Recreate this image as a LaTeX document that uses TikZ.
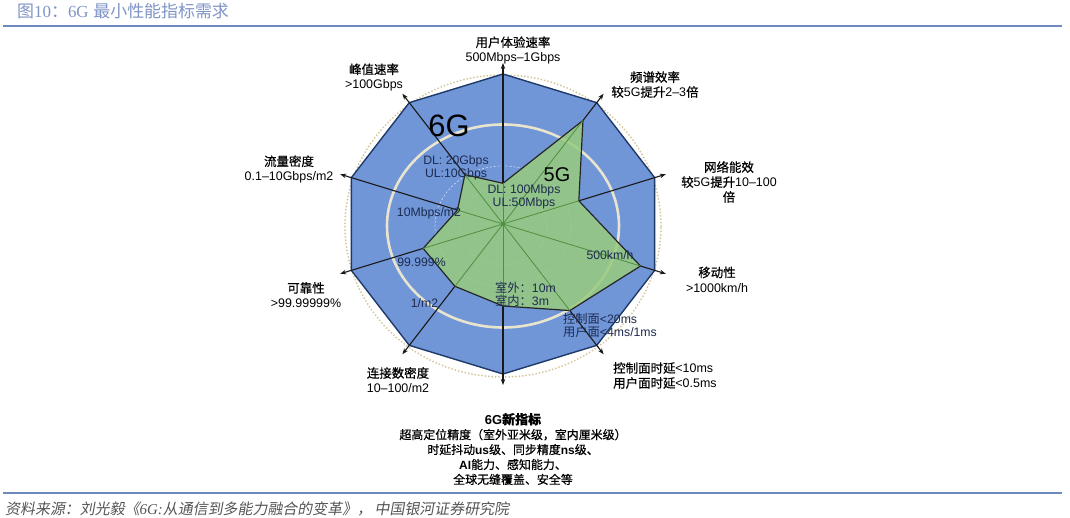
\documentclass[tikz,border=0pt]{standalone}
\usepackage{fontspec}
\setmainfont{Liberation Sans}
\newfontfamily\cjk{Noto Sans CJK SC}
\newfontfamily\cjkb{Noto Sans CJK SC}[FakeBold=0.6]
\newfontfamily\cjkit{Noto Sans CJK SC}[FakeSlant=0.18]
\newfontfamily\enserif{Liberation Serif}
\usetikzlibrary{arrows.meta}
\newcommand\zh[1]{{\cjk #1}}
\newcommand\zhb[1]{{\cjkb #1}}
\definecolor{titlecol}{HTML}{7F95C6}
\definecolor{rulecol}{HTML}{6E89BB}
\definecolor{bluefill}{HTML}{7096D8}
\definecolor{navyline}{HTML}{1F3A68}
\definecolor{ringcol}{HTML}{E8E4CE}
\definecolor{dotcol}{HTML}{D3C698}
\definecolor{greenfill}{HTML}{97CB7E}
\definecolor{spokecol}{HTML}{4F8F3F}
\definecolor{innertext}{HTML}{1E2B4F}
\definecolor{notecol}{HTML}{555555}
\begin{document}
\begin{tikzpicture}[x=1bp,y=-1bp,
  titletext/.style={text=titlecol,inner sep=0pt,font=\fontsize{17}{18}\selectfont},
  rule/.style={draw=rulecol,line width=2bp},
  notetext/.style={text=notecol,inner sep=0pt,font=\fontsize{15}{17}\selectfont},
  hexa/.style={fill=bluefill,draw=navyline,line width=1.4bp,line join=miter},
  ringsolid/.style={draw=ringcol,line width=2.6bp},
  ringdot/.style={draw=dotcol,line width=2bp,line cap=round,dash pattern=on 0bp off 3.4bp},
  ringdash/.style={draw=white,draw opacity=0.6,line width=0.7bp,dash pattern=on 2bp off 2bp},
  axisline/.style={draw=black!90,line width=1.1bp,-{Stealth[length=6bp,width=4.5bp]}},
  greenpoly/.style={fill=greenfill,fill opacity=0.86,draw=black!85,line width=1.2bp,line join=miter},
  spoke/.style={draw=spokecol,line width=0.8bp},
  outlabel/.style={align=center,inner sep=0pt,text=black,font=\fontsize{12.5}{15}\selectfont},
  inlabel/.style={align=center,inner sep=0pt,text=innertext,font=\fontsize{12.3}{13}\selectfont},
  biglabel/.style={inner sep=0pt,text=black}
]
\useasboundingbox (0,0) rectangle (1070,518);
\fill[white] (0,0) rectangle (1070,518);

% title and rules
\node[titletext,anchor=west] (title) at (17,11) {\zh{图}{\enserif 10}\zh{：}{\enserif 6G} \zh{最小性能指标需求}};
\coordinate (rt1) at (3,26);
\coordinate (rt2) at (1062,26);
\draw[rule] (rt1) -- (rt2);
\coordinate (rb1) at (3,492.5);
\coordinate (rb2) at (1062,492.5);
\draw[rule] (rb1) -- (rb2);
\node[notetext,anchor=west] (note) at (5,508.5) {{\cjkit 资料来源：刘光毅《}{\enserif\itshape 6G:}{\cjkit 从通信到多能力融合的变革》，\,中国银河证券研究院}};

% radar
\begin{scope}[shift={(503,224)}]
\begin{scope}[x=1.063bp,y=1bp]
\coordinate (O) at (0,0);
\foreach \i/\r in {0/40.7,1/128,2/75,3/136,4/107,5/82,6/77,7/79,8/45,9/61}{
  \pgfmathsetmacro\ang{90-36*\i}
  \coordinate (d\i) at (\ang:150);
  \coordinate (g\i) at (\ang:\r);
  \coordinate (t\i) at (\ang:161);
}
\draw[ringdot] (0,-2) ellipse [x radius=158bp, y radius=151bp];
\draw[hexa] (d0) -- (d1) -- (d2) -- (d3) -- (d4) -- (d5) -- (d6) -- (d7) -- (d8) -- (d9) -- cycle;
\draw[ringsolid] (0,-2) ellipse [x radius=116bp, y radius=101.5bp];
\draw[ringdash] (0,-2) ellipse [x radius=68bp, y radius=60bp];
\draw[ringdash] (0,-2) ellipse [x radius=44bp, y radius=39bp];
\foreach \i in {0,...,9}{ \draw[axisline] (g\i) -- (t\i); }
\draw[greenpoly] (g0) -- (g1) -- (g2) -- (g3) -- (g4) -- (g5) -- (g6) -- (g7) -- (g8) -- (g9) -- cycle;
\foreach \i in {0,...,9}{ \draw[spoke] (O) -- (g\i); }
\fill[spokecol] (O) circle [radius=2bp];
\end{scope}
\end{scope}

% inner labels
\node[biglabel,font=\fontsize{31}{31}\selectfont] (l6g) at (449,126) {6G};
\node[biglabel,font=\fontsize{20}{20}\selectfont] (l5g) at (557,175) {5G};
\node[inlabel] (dl6) at (456,168) {DL: 20Gbps\\UL:10Gbps};
\node[inlabel] (dl5) at (524,197) {DL: 100Mbps\\UL:50Mbps};
\node[inlabel] (flow5) at (429,213.5) {10Mbps/m2};
\node[inlabel] (rel5) at (421.5,262) {99.999\%};
\node[inlabel] (con5) at (424.5,303) {1/m2};
\node[inlabel,align=left,anchor=west] (pos5) at (495,294.5) {\zh{室外：}10m\\\zh{室内：}3m};
\node[inlabel] (mob5) at (610,255) {500km/h};
\node[inlabel,align=left,anchor=west] (lat5) at (563,325.5) {\zh{控制面}<20ms\\\zh{用户面}<4ms/1ms};

% outer labels
\node[outlabel] (a0) at (513,50.5) {\zhb{用户体验速率}\\500Mbps–1Gbps};
\node[outlabel] (a1) at (655,84.5) {\zhb{频谱效率}\\\zhb{较}5G\zhb{提升}2–3\zhb{倍}};
\node[outlabel] (a2) at (729,182) {\zhb{网络能效}\\\zhb{较}5G\zhb{提升}10–100\\\zhb{倍}};
\node[outlabel] (a3) at (717,279.5) {\zhb{移动性}\\>1000km/h};
\node[outlabel,align=left,anchor=west] (a4) at (613,375.5) {\zhb{控制面时延}<10ms\\\zhb{用户面时延}<0.5ms};
\node[outlabel,font=\fontsize{12}{15}\selectfont] (a5) at (513,449) {{\fontsize{13}{15}\selectfont\bfseries 6G\zhb{新指标}}\\\zhb{超高定位精度（室外亚米级，室内厘米级）}\\\zhb{时延抖动}{\bfseries us}\zhb{级、同步精度}{\bfseries ns}\zhb{级、}\\{\bfseries AI}\zhb{能力、感知能力、}\\\zhb{全球无缝覆盖、安全等}};
\node[outlabel] (a6) at (398,380) {\zhb{连接数密度}\\10–100/m2};
\node[outlabel] (a7) at (306,295) {\zhb{可靠性}\\>99.99999\%};
\node[outlabel] (a8) at (289,169.5) {\zhb{流量密度}\\0.1–10Gbps/m2};
\node[outlabel] (a9) at (374,77.5) {\zhb{峰值速率}\\>100Gbps};
\end{tikzpicture}
\end{document}
